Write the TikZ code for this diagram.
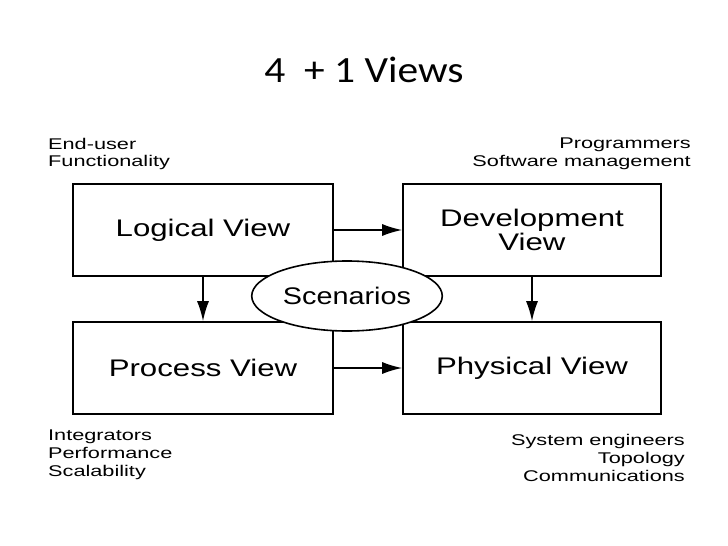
\documentclass[tikz,border=0pt]{standalone}
\usepackage{fontspec}
\usepackage{graphicx}
\setmainfont{Liberation Sans}
\newfontfamily\titlefont{Carlito}
\usetikzlibrary{shapes.geometric,arrows.meta}
\newcommand{\stretchtxt}[2]{\scalebox{#1}[1]{#2}}
\begin{document}
\begin{tikzpicture}[x=1pt,y=-1pt,
  viewbox/.style={draw,line width=1.6pt,minimum width=260pt,minimum height=92pt,align=center,font=\fontsize{24}{25}\selectfont},
  lbl/.style={font=\fontsize{15.5}{17}\selectfont,inner sep=0pt},
  conn/.style={line width=1.6pt,-{Latex[length=20pt,width=12pt]}}]
\useasboundingbox (0,0) rectangle (728,546);
\node[font=\titlefont\fontsize{37}{40}\selectfont] (title) at (364,70) {\stretchtxt{1.12}{4\ \ + 1 Views}};
\node[viewbox] (log) at (203,230) {\stretchtxt{1.3}{Logical View}};
\node[viewbox,minimum width=258pt] (dev) at (532,230) {\stretchtxt{1.3}{Development}\\[-1pt]\stretchtxt{1.3}{View}};
\node[viewbox] (proc) at (203,368) {\stretchtxt{1.3}{Process View}};
\node[viewbox,minimum width=258pt] (phys) at (532,368) {\stretchtxt{1.3}{Physical View}};
\draw[conn] (log) -- (dev);
\draw[conn] (proc) -- (phys);
\draw[conn] (log) -- (proc);
\draw[conn] (dev) -- (phys);
\node[ellipse,draw,fill=white,line width=1.6pt,minimum width=190pt,minimum height=70pt,font=\fontsize{24}{25}\selectfont] (scen) at (347,296) {\stretchtxt{1.2}{Scenarios}};
\node[lbl,anchor=base west] (l1) at (48,149) {\stretchtxt{1.4}{End-user}};
\node[lbl,anchor=base west] (l2) at (48,166) {\stretchtxt{1.4}{Functionality}};
\node[lbl,anchor=base east] (r1) at (691,148) {\stretchtxt{1.4}{Programmers}};
\node[lbl,anchor=base east] (r2) at (691,166) {\stretchtxt{1.4}{Software management}};
\node[lbl,anchor=base west] (b1) at (48,440) {\stretchtxt{1.4}{Integrators}};
\node[lbl,anchor=base west] (b2) at (48,458) {\stretchtxt{1.4}{Performance}};
\node[lbl,anchor=base west] (b3) at (48,476) {\stretchtxt{1.4}{Scalability}};
\node[lbl,anchor=base east] (c1) at (685,445) {\stretchtxt{1.4}{System engineers}};
\node[lbl,anchor=base east] (c2) at (685,463) {\stretchtxt{1.4}{Topology}};
\node[lbl,anchor=base east] (c3) at (685,481) {\stretchtxt{1.4}{Communications}};
\end{tikzpicture}
\end{document}
